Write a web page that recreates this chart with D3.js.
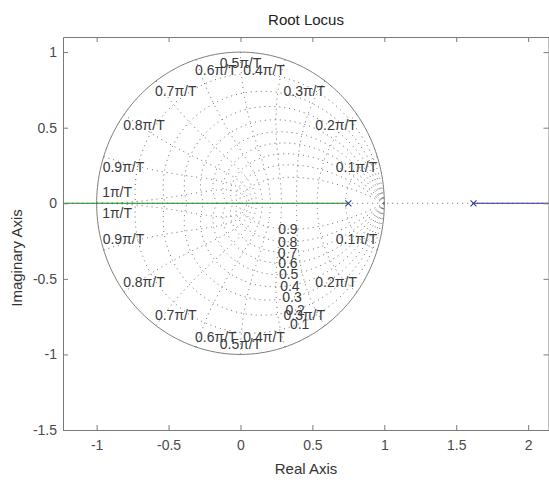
<!DOCTYPE html>
<html>
<head>
<meta charset="utf-8">
<script src="https://cdn.jsdelivr.net/npm/d3@7"></script>
<style>
  html, body { margin: 0; padding: 0; background: #fff; }
  svg { display: block; font-family: "Liberation Sans", Arial, Helvetica, sans-serif; }
</style>
</head>
<body>
<svg id="chart" width="549" height="485"></svg>
<script>
// Open-loop poles on the real axis
const poles = [0.75, 1.62];
// Root-locus branches (real-axis segments), each running from a pole toward infinity
const branchGreen = [[0.75, 0], [-10, 0]];
const branchBlue = [[1.62, 0], [10, 0]];

// z-plane grid: damping ratios and natural frequencies (in units of pi/T)
const zetaValues = [0.1, 0.2, 0.3, 0.4, 0.5, 0.6, 0.7, 0.8, 0.9];
const wnValues = [0.1, 0.2, 0.3, 0.4, 0.5, 0.6, 0.7, 0.8, 0.9, 1];

// Axis ticks
const xTicks = [-1, -0.5, 0, 0.5, 1, 1.5, 2];
const xTickLabels = ["-1", "-0.5", "0", "0.5", "1", "1.5", "2"];
const yTicks = [-1.5, -1, -0.5, 0, 0.5, 1];
const yTickLabels = ["-1.5", "-1", "-0.5", "0", "0.5", "1"];

const svg = d3.select("#chart");
const pLeft = 63, pRight = 549, pTop = 37, pBottom = 430;

const x = d3.scaleLinear().domain([-1.234, 2.145]).range([pLeft, pRight]);
const y = d3.scaleLinear().domain([-1.5, 1.1]).range([pBottom, pTop]);

const axisColor = "#7a7a7a";
const textColor = "#3a3a3a";
const gridColor = "#6a6a6a";
const gridDash = "1 4";

svg.append("defs").append("clipPath").attr("id", "plotClip")
  .append("rect").attr("x", pLeft).attr("y", pTop)
  .attr("width", pRight - pLeft).attr("height", pBottom - pTop);

const plot = svg.append("g").attr("clip-path", "url(#plotClip)");
const line = d3.line().x(d => x(d[0])).y(d => y(d[1]));

function gridPath(pts) {
  plot.append("path").attr("d", line(pts))
    .attr("fill", "none").attr("stroke", gridColor)
    .attr("stroke-width", 1).attr("stroke-dasharray", gridDash);
}

// Dotted real axis
gridPath([[-10, 0], [10, 0]]);

// Damping-ratio spirals z = exp(-zeta*theta/sqrt(1-zeta^2)) e^{±j theta}
const thetas = d3.range(0, 201).map(i => Math.PI * i / 200);
zetaValues.forEach(zeta => {
  const k = zeta / Math.sqrt(1 - zeta * zeta);
  [1, -1].forEach(sgn => {
    gridPath(thetas.map(t => {
      const r = Math.exp(-k * t);
      return [r * Math.cos(t), sgn * r * Math.sin(t)];
    }));
  });
});

// Natural-frequency curves z = exp(wn(-zeta ± j sqrt(1-zeta^2))), zeta in [0,1]
const phis = d3.range(0, 201).map(i => (Math.PI / 2) * i / 200);
wnValues.forEach(v => {
  const wn = v * Math.PI;
  [1, -1].forEach(sgn => {
    gridPath(phis.map(p => {
      const zeta = Math.sin(p), wd = wn * Math.cos(p);
      const r = Math.exp(-wn * zeta);
      return [r * Math.cos(wd), sgn * r * Math.sin(wd)];
    }));
  });
});

// Unit circle
const circlePts = d3.range(0, 361).map(i => {
  const a = 2 * Math.PI * i / 360;
  return [Math.cos(a), Math.sin(a)];
});
plot.append("path").attr("d", line(circlePts))
  .attr("fill", "none").attr("stroke", "#7c7c7c").attr("stroke-width", 1);

// Root-locus branches
plot.append("path").attr("d", line(branchGreen))
  .attr("fill", "none").attr("stroke", "#138a13").attr("stroke-width", 1.2);
plot.append("path").attr("d", line(branchBlue))
  .attr("fill", "none").attr("stroke", "#26268f").attr("stroke-width", 1.2);

// Pole markers
const m = 3;
poles.forEach(p => {
  const cx = x(p), cy = y(0);
  plot.append("path")
    .attr("d", `M${cx - m},${cy - m}L${cx + m},${cy + m}M${cx - m},${cy + m}L${cx + m},${cy - m}`)
    .attr("stroke", "#2b3f9c").attr("stroke-width", 1.1).attr("fill", "none");
});

// Natural-frequency labels, upper and lower half-plane
const labelFont = "14px";
wnValues.forEach(v => {
  const th = v * Math.PI;
  const c = Math.cos(th);
  [1, -1].forEach(sgn => {
    const px = x(c), py = y(sgn * Math.sin(th));
    let anchor, tx, ty;
    if (v === 1) {
      anchor = "start"; tx = px + 5.5;
      ty = sgn > 0 ? py - 6 : py + 15;
    } else {
      anchor = c > 0.01 ? "end" : (c < -0.01 ? "start" : "middle");
      tx = anchor === "start" ? px - 1 : px;
      ty = sgn > 0 ? py + 15.5 : py - 5.5;
    }
    svg.append("text").attr("x", tx).attr("y", ty)
      .attr("text-anchor", anchor).attr("font-size", labelFont)
      .attr("fill", textColor).text(`${v}π/T`);
  });
});

// Damping-ratio labels along the lower spirals
const wnLabel = 0.35 * Math.PI;
zetaValues.forEach(zeta => {
  const th = wnLabel * Math.sqrt(1 - zeta * zeta);
  const r = Math.exp(-zeta * wnLabel);
  svg.append("text")
    .attr("x", x(r * Math.cos(th)))
    .attr("y", y(-r * Math.sin(th)) + 5)
    .attr("text-anchor", "middle").attr("font-size", labelFont)
    .attr("fill", textColor).text(zeta);
});

// Axes box with inward ticks
function styleAxis(g) {
  g.selectAll(".domain").attr("stroke", axisColor);
  g.selectAll(".tick line").attr("stroke", axisColor);
  g.selectAll(".tick text").attr("fill", "#4a4a4a").attr("font-size", "14px")
    .attr("font-family", "Liberation Sans, Arial, sans-serif");
}
svg.append("g").attr("transform", `translate(0,${pBottom})`)
  .call(d3.axisBottom(x).tickValues(xTicks).tickSizeInner(-5).tickSizeOuter(0).tickPadding(10)
    .tickFormat((d, i) => xTickLabels[i]))
  .call(styleAxis);
svg.append("g").attr("transform", `translate(0,${pTop})`)
  .call(d3.axisTop(x).tickValues(xTicks).tickSizeInner(-5).tickSizeOuter(0).tickFormat(""))
  .call(styleAxis);
svg.append("g").attr("transform", `translate(${pLeft},0)`)
  .call(d3.axisLeft(y).tickValues(yTicks).tickSizeInner(-5).tickSizeOuter(0).tickPadding(6)
    .tickFormat((d, i) => yTickLabels[i]))
  .call(styleAxis);
svg.append("g").attr("transform", `translate(${pRight - 0.5},0)`)
  .call(d3.axisLeft(y).tickValues(yTicks).tickSizeInner(5).tickSizeOuter(0).tickFormat(""))
  .call(styleAxis);

// Title and axis labels
svg.append("text").attr("x", (pLeft + pRight) / 2).attr("y", 25)
  .attr("text-anchor", "middle").attr("font-size", "15px").attr("fill", "#222")
  .text("Root Locus");
svg.append("text").attr("x", (pLeft + pRight) / 2).attr("y", 474)
  .attr("text-anchor", "middle").attr("font-size", "15px").attr("fill", "#333")
  .text("Real Axis");
svg.append("text").attr("transform", "translate(22,258) rotate(-90)")
  .attr("text-anchor", "middle").attr("font-size", "15px").attr("fill", "#333")
  .text("Imaginary Axis");
</script>
</body>
</html>
